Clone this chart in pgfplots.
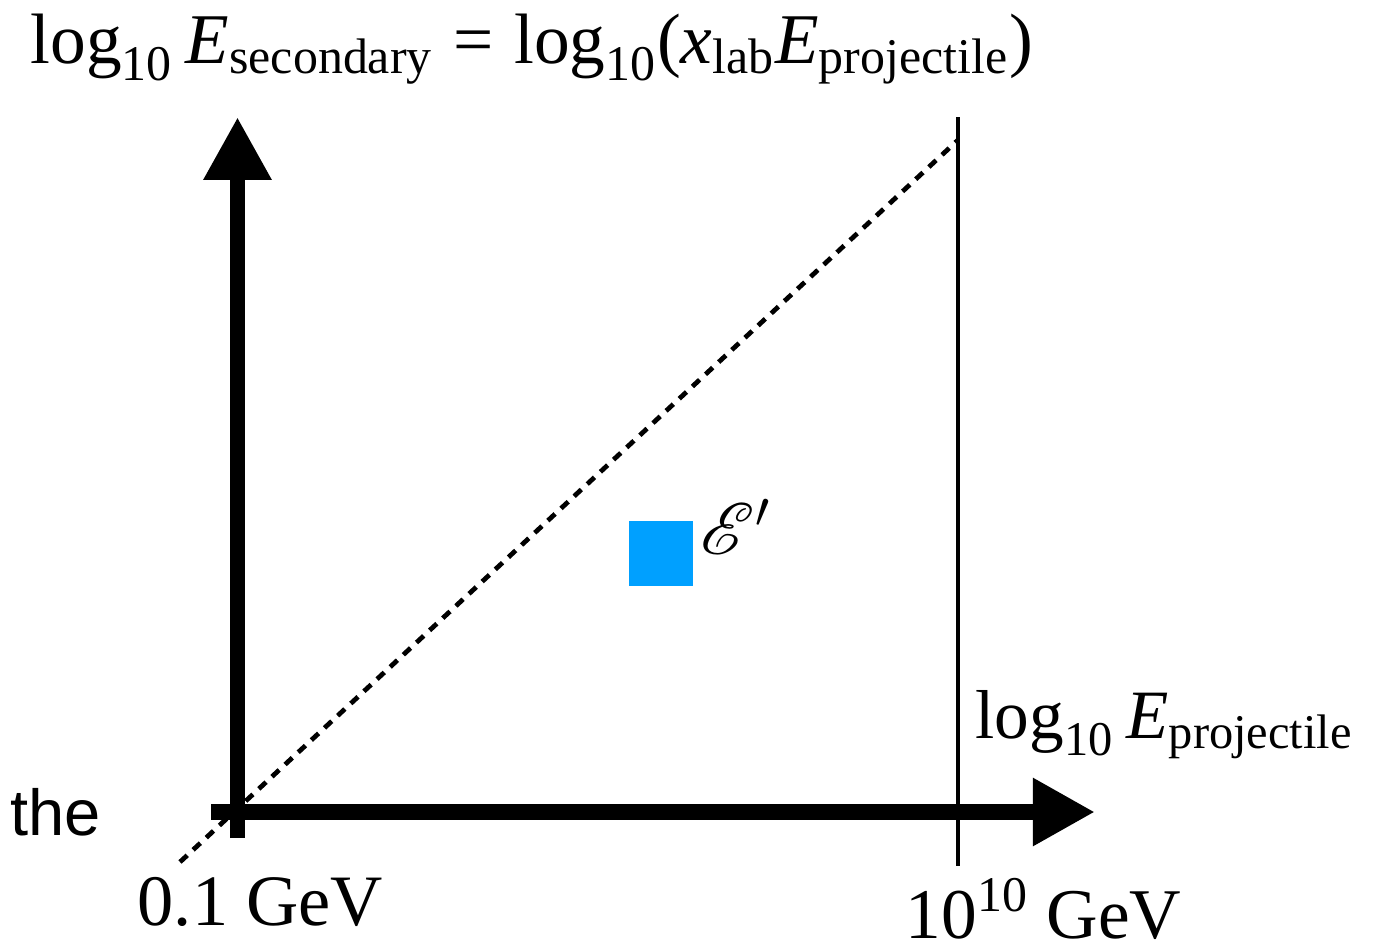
\documentclass[border=0pt]{standalone}
\usepackage{pgfplots}
\pgfplotsset{compat=1.18}
\usetikzlibrary{arrows.meta}
\usepackage{amsmath}
\usepackage{mathrsfs}
\usepackage{fontspec}
\setmainfont{Liberation Serif}
\newfontfamily\sansfont{Liberation Sans}
\definecolor{sqblue}{RGB}{0,160,255}
\begin{document}
\begin{tikzpicture}
\begin{axis}[
  scale only axis, width=13.87cm, height=9.46cm,
  xmin=0, xmax=1387, ymin=0, ymax=946, y dir=reverse,
  axis lines=none, clip=false,
]
% diagonal x_lab = 1 line
\addplot[black, line width=1.35pt, dash pattern=on 2.8pt off 2.3pt] coordinates {(180,862) (958,140)};
% upper limit 10^10 GeV
\addplot[black, line width=1.4pt] coordinates {(958,117) (958,866)};
% axes
\addplot[black, line width=4.4pt, -{Triangle[length=17.9pt,width=18.2pt]}] coordinates {(237.5,838) (237.5,117)};
\addplot[black, line width=4.6pt, -{Triangle[length=17.7pt,width=18.2pt]}] coordinates {(211,812) (1095,812)};
% bin
\addplot[only marks, mark=square*, mark size=9.1pt, color=sqblue, mark options={fill=sqblue, draw=sqblue, line width=0pt}] coordinates {(661,553.5)};
% labels
\node[anchor=base west, inner sep=0pt, font=\fontsize{20.3}{24}\selectfont] at (axis cs:30,63)
  {$\text{log}_{\text{10}}\,\textit{E}_{\text{secondary}} \mathrel{\text{=}} \text{log}_{\text{10}}\text{(}\textit{x}_{\text{lab}}\textit{E}_{\text{projectile}}\text{)}$};
\node[anchor=base west, inner sep=0pt, font=\fontsize{19.7}{23}\selectfont] at (axis cs:975,738)
  {$\text{log}_{\text{10}}\,\textit{E}_{\text{projectile}}$};
\node[anchor=base west, inner sep=0pt, font=\fontsize{20.6}{24}\selectfont] at (axis cs:137,925) {0.1 GeV};
\node[anchor=base west, inner sep=0pt, font=\fontsize{20.3}{24}\selectfont] at (axis cs:905,938) {10\textsuperscript{10} GeV};
\node[anchor=base west, inner sep=0pt, font=\sansfont\fontsize{18.5}{22}\selectfont] at (axis cs:10,835) {the};
\node[anchor=west, inner sep=0pt, font=\fontsize{20}{24}\selectfont] at (axis cs:700,527) {$\mathscr{E}'$};
\end{axis}
\pgfresetboundingbox
\path[use as bounding box] (current axis.south west) rectangle (current axis.north east);
\end{tikzpicture}
\end{document}
